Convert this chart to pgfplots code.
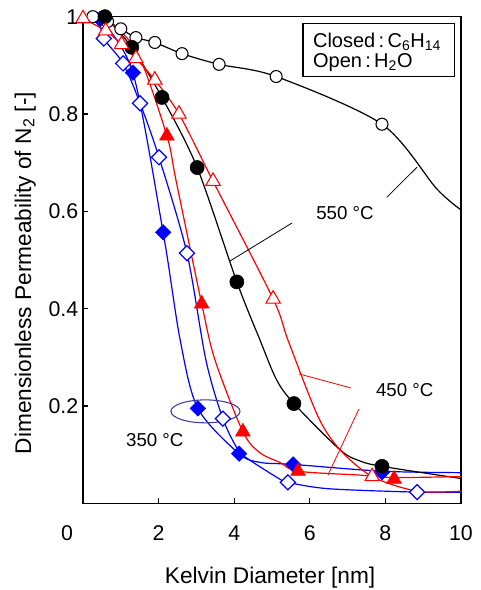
\documentclass[border=0pt]{standalone}
\usepackage{fontspec}
\setmainfont{Liberation Sans}
\usepackage{pgfplots}
\pgfplotsset{compat=1.18}
\definecolor{bl}{RGB}{0,0,255}
\definecolor{rd}{RGB}{255,0,0}
\definecolor{ellc}{RGB}{60,60,160}
\begin{document}
\begin{tikzpicture}
\begin{axis}[
  scale only axis, width=283.5pt, height=365pt,
  xmin=0, xmax=10, ymin=0, ymax=1,
  xtick={2,4,6,8,10}, ytick={0.2,0.4,0.6,0.8,1},
  tick pos=left, tick align=inside, major tick length=4pt,
  axis line style={line width=1.1pt},
  every tick/.style={black, line width=0.8pt},
  /pgf/number format/assume math mode=true,
  ticklabel style={font=\fontsize{16}{18}\selectfont},
  xticklabel style={anchor=base, yshift=-27.8pt},
  label style={font=\fontsize{17}{20}\selectfont},
  xlabel={Kelvin Diameter [nm]},
  ylabel={Dimensionless Permeability of N\textsubscript{2} [-]},
  xlabel style={at={(axis description cs:0.495,-0.165)}, anchor=base},
  ylabel style={at={(axis description cs:-0.153,0.473)}, anchor=center},
  clip=false,
]
% lines
\addplot[bl, line width=0.9pt, smooth, tension=0.5] coordinates {
  (0.45,0.99) (0.55,0.955) (1.06,0.904) (1.51,0.822) (2.01,0.711) (2.75,0.514)
  (3.25,0.295) (3.70,0.174) (4.1,0.11) (4.35,0.092) (5.2,0.05) (5.42,0.043)
  (6.5,0.03) (8.84,0.023) (10,0.023)};
\addplot[bl, line width=0.9pt, smooth, tension=0.5] coordinates {
  (0.45,0.995) (1.32,0.885) (2.12,0.557) (2.57,0.336) (3.04,0.195)
  (4.13,0.102) (4.7,0.084) (5.56,0.08) (7.91,0.066) (10,0.063)};
\addplot[black, line width=0.9pt, smooth, tension=0.5] coordinates {
  (0.26,1.0) (0.65,0.99) (1.0,0.975) (1.4,0.957) (1.9,0.947) (2.62,0.924)
  (3.6,0.902) (5.11,0.877) (7.91,0.779) (9.35,0.647) (10,0.603)};
\addplot[black, line width=0.9pt, smooth, tension=0.5] coordinates {
  (0.58,1.0) (1.29,0.937) (2.09,0.834) (3.02,0.69) (4.07,0.455) (4.68,0.336)
  (5.12,0.254) (5.58,0.205) (6.8,0.11) (7.33,0.087) (7.91,0.076) (10,0.051)};
\addplot[rd, line width=0.9pt, smooth, tension=0.5] coordinates {
  (0,0.996) (0.6,0.971) (1.02,0.943) (1.4,0.914) (1.9,0.87) (2.54,0.8)
  (3.44,0.662) (5.03,0.42) (5.42,0.336) (6.22,0.178) (6.8,0.11) (7.65,0.055)
  (8.84,0.025) (10,0.025)};
\addplot[rd, line width=0.9pt, smooth, tension=0.5] coordinates {
  (0.7,0.99) (1.45,0.925) (2.22,0.755) (2.46,0.664) (3.14,0.41) (3.49,0.295)
  (4.23,0.147) (4.68,0.104) (5.21,0.084) (5.69,0.066) (7.33,0.058) (8.23,0.053)
  (10,0.055)};
% annotations
\draw[ellc, line width=0.8pt] (axis cs:3.24,0.189) ellipse [x radius=25.9pt, y radius=8.6pt];
\draw[black, line width=0.6pt] (axis cs:5.53,0.576) -- (axis cs:3.89,0.498);
\draw[black, line width=0.6pt] (axis cs:8.04,0.629) -- (axis cs:8.84,0.691);
\draw[rd, line width=0.6pt] (axis cs:5.71,0.266) -- (axis cs:7.09,0.237);
\draw[rd, line width=0.6pt] (axis cs:7.30,0.194) -- (axis cs:6.48,0.058);
\node[font=\fontsize{14}{16}\selectfont] at (axis cs:6.93,0.596) {550 °C};
\node[font=\fontsize{14}{16}\selectfont] at (axis cs:8.51,0.233) {450 °C};
\node[font=\fontsize{14}{16}\selectfont] at (axis cs:1.90,0.130) {350 °C};
% marks
\addplot[only marks, mark=square*, mark size=4pt, bl,
  mark options={rotate=45, fill=white, line width=0.9pt}] coordinates {
  (0.55,0.955) (1.06,0.904) (1.51,0.822) (2.01,0.711) (2.75,0.514) (3.70,0.174)
  (5.42,0.043) (8.84,0.023)};
\addplot[only marks, mark=square*, mark size=4.1pt, bl,
  mark options={rotate=45}] coordinates {
  (0.45,0.995) (1.32,0.885) (2.12,0.557) (3.04,0.195) (4.13,0.102) (5.56,0.08)
  (7.91,0.064)};
\addplot[only marks, mark=*, mark size=4.5pt, black,
  mark options={fill=white, line width=0.8pt}] coordinates {
  (0.26,1.0) (0.65,0.99) (1.0,0.975) (1.4,0.957) (1.9,0.947) (2.62,0.924)
  (3.6,0.902) (5.11,0.877) (7.91,0.779)};
\addplot[only marks, mark=*, mark size=5.3pt, black] coordinates {
  (0.58,1.0) (1.29,0.937) (2.09,0.834) (3.02,0.69) (4.07,0.455) (5.58,0.205)
  (7.91,0.076)};
\addplot[only marks, mark=triangle*, mark size=6.4pt, rd] coordinates {
  (2.22,0.755) (3.14,0.41) (4.23,0.147) (5.69,0.066) (8.23,0.05)};
\addplot[only marks, mark=triangle*, mark size=6.2pt, rd,
  mark options={fill=white, line width=0.8pt}] coordinates {
  (0,0.996) (0.6,0.971) (1.02,0.943) (1.4,0.914) (1.9,0.87) (2.54,0.8)
  (3.44,0.662) (5.03,0.42) (7.65,0.055)};
% legend box
\draw[line width=0.8pt, fill=white] (axis cs:5.82,0.985) rectangle (axis cs:9.84,0.878);
\node[anchor=base west, font=\fontsize{15}{17}\selectfont, inner sep=0pt]
  at (axis cs:6.08,0.9375) {Closed\,:\,C\textsubscript{6}H\textsubscript{14}};
\node[anchor=base west, font=\fontsize{15}{17}\selectfont, inner sep=0pt]
  at (axis cs:6.08,0.895) {Open\,:\,H\textsubscript{2}O};
% x tick label 0, set left of the axis corner as in the original
\node[anchor=base, font=\fontsize{16}{18}\selectfont] at (axis cs:-0.42,0) [yshift=-27.8pt] {0};
\end{axis}
\pgfresetboundingbox
\path[use as bounding box] (-62.25pt,-65pt) rectangle (298.5pt,377.5pt);
\end{tikzpicture}
\end{document}
